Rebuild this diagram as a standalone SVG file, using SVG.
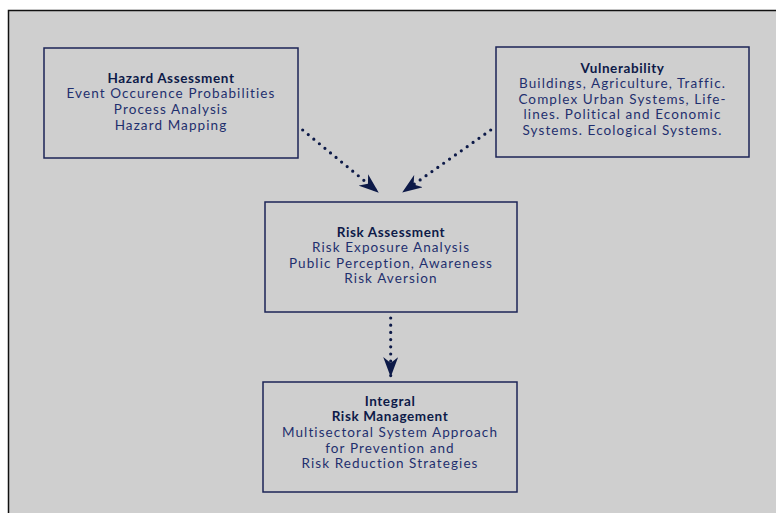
<svg xmlns="http://www.w3.org/2000/svg" width="776" height="513" viewBox="0 0 776 513">
  <defs>
    <style>
      .box { fill: #cfcfcf; stroke: #1c2557; stroke-width: 1.5; }
      .t { font-family: Lato, "Open Sans", "DejaVu Sans", sans-serif; font-size: 13.5px; letter-spacing: 1.1px; text-anchor: middle; fill: #1f2f6e; }
      .h { font-weight: bold; fill: #0d1a48; letter-spacing: 0.6px; }
      .c { fill: none; stroke: #0d1a48; stroke-width: 3.2; stroke-linecap: round; stroke-dasharray: 0 7.2; }
    </style>
    <marker id="ah" viewBox="0 0 20 15" refX="19" refY="7.5" markerWidth="20" markerHeight="15" markerUnits="userSpaceOnUse" orient="auto">
      <path d="M0,0 L20,7.5 L0,15 L6,7.5 Z" fill="#0d1a48"/>
    </marker>
  </defs>
  <rect x="0" y="0" width="776" height="513" fill="#ffffff"/>
  <rect x="9" y="11" width="768" height="503" fill="#cfcfcf"/>
  <path d="M8.5,514 L8.5,10.5 L777,10.5" fill="none" stroke="#111111" stroke-width="1.5"/>

  <g id="connectors">
    <path class="c" d="M302.7,130 L378,192" marker-end="url(#ah)"/>
    <path class="c" d="M490.7,130 L403,192" marker-end="url(#ah)"/>
    <path class="c" d="M390.7,318 L390.7,376" marker-end="url(#ah)"/>
  </g>

  <g id="hazard">
    <rect class="box" x="44" y="48" width="254" height="110"/>
    <text class="t h" x="171" y="83">Hazard Assessment</text>
    <text class="t" x="171" y="98">Event Occurence Probabilities</text>
    <text class="t" x="171" y="114">Process Analysis</text>
    <text class="t" x="171" y="130">Hazard Mapping</text>
  </g>

  <g id="vulnerability">
    <rect class="box" x="496" y="47" width="253" height="110"/>
    <text class="t h" x="622.5" y="73">Vulnerability</text>
    <text class="t" x="622.5" y="88">Buildings, Agriculture, Traffic.</text>
    <text class="t" x="622.5" y="104">Complex Urban Systems, Life-</text>
    <text class="t" x="622.5" y="119">lines. Political and Economic</text>
    <text class="t" x="622.5" y="135">Systems. Ecological Systems.</text>
  </g>

  <g id="risk-assessment">
    <rect class="box" x="265" y="202" width="252" height="110"/>
    <text class="t h" x="391" y="237">Risk Assessment</text>
    <text class="t" x="391" y="252">Risk Exposure Analysis</text>
    <text class="t" x="391" y="268">Public Perception, Awareness</text>
    <text class="t" x="391" y="283">Risk Aversion</text>
  </g>

  <g id="integral-risk-management">
    <rect class="box" x="263" y="382" width="254" height="110"/>
    <text class="t h" x="390" y="406">Integral</text>
    <text class="t h" x="390" y="421">Risk Management</text>
    <text class="t" x="390" y="437">Multisectoral System Approach</text>
    <text class="t" x="390" y="453">for Prevention and</text>
    <text class="t" x="390" y="468">Risk Reduction Strategies</text>
  </g>
</svg>
